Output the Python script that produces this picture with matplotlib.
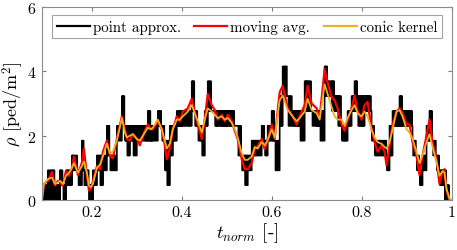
import numpy as np
import matplotlib
matplotlib.use("Agg")
import matplotlib.pyplot as plt

plt.rcParams["font.family"] = "serif"
plt.rcParams["font.serif"] = ["cmr10"]
plt.rcParams["mathtext.fontset"] = "cm"
plt.rcParams["axes.formatter.use_mathtext"] = True

# normalised time of each sample
t_norm = [
    0.0898, 0.0942, 0.1031, 0.1120, 0.1186, 0.1253, 0.1297, 0.1364, 0.1430, 0.1497,
    0.1563, 0.1608, 0.1696, 0.1785, 0.1829, 0.1896, 0.1940, 0.1984, 0.2029, 0.2118,
    0.2184, 0.2251, 0.2339, 0.2406, 0.2472, 0.2561, 0.2672, 0.2738, 0.2783, 0.2849,
    0.2916, 0.3004, 0.3071, 0.3182, 0.3248, 0.3315, 0.3359, 0.3470, 0.3559, 0.3625,
    0.3670, 0.3736, 0.3803, 0.3891, 0.3958, 0.4024, 0.4135, 0.4224, 0.4290, 0.4357,
    0.4446, 0.4512, 0.4579, 0.4667, 0.4734, 0.4800, 0.4889, 0.4956, 0.5022, 0.5111,
    0.5177, 0.5244, 0.5333, 0.5399, 0.5466, 0.5554, 0.5621, 0.5687, 0.5776, 0.5843,
    0.5909, 0.5998, 0.6064, 0.6175, 0.6242, 0.6353, 0.6463, 0.6552, 0.6619, 0.6730,
    0.6796, 0.6885, 0.6996, 0.7062, 0.7173, 0.7239, 0.7328, 0.7395, 0.7461, 0.7550,
    0.7616, 0.7683, 0.7772, 0.7838, 0.7905, 0.7993, 0.8060, 0.8126, 0.8215, 0.8282,
    0.8348, 0.8437, 0.8503, 0.8548, 0.8614, 0.8681, 0.8769, 0.8836, 0.8902, 0.8991,
    0.9058, 0.9124, 0.9213, 0.9279, 0.9346, 0.9435, 0.9501, 0.9568, 0.9656, 0.9723,
    0.9789, 0.9834, 0.9878, 0.9945, 1.0000,
]

# point approximation: pedestrian counts in the cell (upper / lower value in each sample)
count_hi = [
    1, 1, 2, 2, 1, 1, 2, 1, 2, 2,
    3, 3, 2, 4, 2, 2, 1, 1, 2, 3,
    3, 3, 5, 3, 3, 5, 7, 5, 5, 5,
    5, 5, 5, 5, 6, 5, 5, 6, 5, 4,
    4, 5, 5, 6, 6, 6, 6, 8, 6, 5,
    5, 6, 8, 6, 6, 6, 6, 6, 6, 6,
    5, 5, 3, 3, 3, 4, 4, 4, 5, 4,
    5, 6, 4, 7, 9, 7, 6, 6, 6, 8,
    8, 6, 6, 6, 9, 8, 8, 7, 7, 5,
    5, 6, 7, 8, 7, 7, 7, 7, 5, 4,
    4, 4, 4, 3, 5, 6, 6, 7, 6, 6,
    6, 4, 3, 2, 3, 5, 6, 4, 3, 2,
    2, 2, 1, 0, 0,
]
count_lo = [
    0, 0, 0, 0, 0, 0, 1, 0, 1, 1,
    2, 2, 1, 2, 1, 1, 0, 0, 1, 2,
    1, 2, 3, 2, 2, 4, 5, 4, 3, 4,
    3, 4, 4, 4, 4, 4, 4, 5, 4, 2,
    1, 3, 4, 5, 5, 5, 5, 6, 5, 4,
    3, 5, 6, 6, 5, 5, 5, 5, 5, 5,
    5, 3, 2, 1, 2, 3, 3, 3, 4, 3,
    4, 4, 2, 5, 7, 5, 5, 5, 4, 6,
    6, 5, 5, 4, 7, 7, 6, 6, 5, 4,
    4, 5, 6, 6, 5, 5, 6, 6, 4, 3,
    3, 3, 3, 2, 3, 5, 5, 5, 5, 5,
    5, 3, 2, 1, 2, 4, 4, 3, 2, 1,
    1, 0, 0, 0, 0,
]
cell_area = 2.1667  # m^2

moving_avg = [
    0.0, 0.5, 0.6, 0.87, 0.45, 0.6, 0.55, 0.45, 0.9, 0.75,
    1.0, 1.35, 0.78, 1.17, 1.6, 0.78, 0.3, 0.35, 0.58, 1.05,
    0.95, 1.5, 1.85, 1.38, 1.3, 1.9, 2.6, 2.2, 1.9, 1.85,
    2.05, 1.9, 1.7, 2.15, 2.35, 2.2, 2.2, 2.45, 2.2, 1.7,
    1.27, 1.6, 2.2, 2.6, 2.45, 2.75, 2.85, 3.15, 2.75, 2.35,
    1.9, 2.5, 3.3, 2.95, 2.8, 2.5, 2.65, 2.45, 2.65, 2.45,
    2.15, 1.9, 1.27, 0.96, 0.96, 1.15, 1.58, 1.68, 1.9, 1.58,
    1.9, 2.35, 1.9, 3.35, 3.55, 2.85, 2.6, 2.35, 2.6, 2.95,
    3.55, 3.0, 2.85, 2.55, 4.07, 3.65, 3.2, 3.1, 2.85, 2.35,
    2.15, 2.5, 2.85, 3.25, 2.75, 2.5, 2.95, 3.05, 2.2, 1.8,
    1.5, 1.7, 1.5, 1.08, 1.7, 2.35, 2.75, 2.85, 2.7, 2.35,
    2.35, 1.8, 1.38, 0.78, 1.38, 2.0, 2.5, 1.8, 1.27, 0.5,
    0.87, 0.96, 0.3, 0.0, 0.0,
]

conic_kernel = [
    0.0, 0.5, 0.65, 0.7, 0.5, 0.55, 0.6, 0.5, 0.75, 0.85,
    1.0, 1.15, 0.85, 1.05, 1.2, 0.85, 0.45, 0.4, 0.5, 1.0,
    1.1, 1.35, 1.75, 1.45, 1.5, 1.85, 2.55, 2.1, 1.95, 2.0,
    2.05, 1.9, 1.85, 2.1, 2.25, 2.2, 2.25, 2.5, 2.2, 1.85,
    1.6, 1.75, 2.2, 2.5, 2.5, 2.6, 2.75, 2.95, 2.7, 2.45,
    2.1, 2.5, 2.85, 2.75, 2.65, 2.55, 2.6, 2.5, 2.55, 2.4,
    2.2, 1.95, 1.45, 1.25, 1.25, 1.35, 1.65, 1.6, 1.8, 1.7,
    1.85, 2.2, 1.95, 3.1, 3.25, 2.8, 2.6, 2.45, 2.55, 2.75,
    3.15, 2.8, 2.7, 2.5, 3.6, 3.3, 2.9, 2.6, 2.5, 2.5,
    2.3, 2.55, 2.8, 2.95, 2.7, 2.6, 2.75, 2.6, 2.2, 1.95,
    1.8, 1.75, 1.65, 1.6, 1.8, 2.2, 2.75, 2.8, 2.6, 2.2,
    2.1, 1.9, 1.5, 1.15, 1.4, 1.8, 2.05, 1.65, 1.2, 0.75,
    0.9, 0.85, 0.35, 0.05, 0.0,
]

t = np.array(t_norm)
hi = np.array(count_hi) / cell_area
lo = np.array(count_lo) / cell_area

# point approx flickers between the two counts within each sample
n_flick = 3
t_pts, rho_pts = [], []
for i in range(len(t) - 1):
    dt = (t[i + 1] - t[i]) / (2 * n_flick)
    for k in range(n_flick):
        t_pts += [t[i] + 2 * k * dt, t[i] + (2 * k + 1) * dt]
        rho_pts += [hi[i], lo[i]]
t_pts.append(t[-1])
rho_pts.append(hi[-1])

fig = plt.figure(figsize=(4.57, 2.51), dpi=100)
ax = fig.add_axes([0.092, 0.199, 0.897, 0.769])

ax.step(t_pts, rho_pts, where="post", color="k", linewidth=1.2, label="point approx.")
ax.plot(t, moving_avg, color="#ff0000", linewidth=1.6, label="moving avg.")
ax.plot(t, conic_kernel, color="#edb120", linewidth=1.3, label="conic kernel")

ax.set_xlim(0.09, 1.0)
ax.set_ylim(0, 6)
ax.set_xticks([0.2, 0.4, 0.6, 0.8, 1.0])
ax.set_xticklabels(["0.2", "0.4", "0.6", "0.8", "1"])
ax.set_yticks([0, 2, 4, 6])
ax.tick_params(direction="in", top=True, right=True, labelsize=11.5, length=3,
               color="#7f7f7f", pad=4)
for s in ax.spines.values():
    s.set_color("#8c8c8c")
    s.set_linewidth(0.8)

ax.set_xlabel(r"$t_{norm}$ [-]", fontsize=13.5, labelpad=1)
ax.set_ylabel(r"$\rho$ [ped/m$^2$]", fontsize=13, labelpad=1)

leg = ax.legend(loc="upper center", ncol=3, fontsize=10.8, frameon=True, fancybox=False,
                edgecolor="#8c8c8c", handlelength=2.2, handletextpad=0.2,
                columnspacing=0.9, borderaxespad=0.55, borderpad=0.3)
leg.get_frame().set_linewidth(0.8)
for line in leg.get_lines():
    line.set_linewidth(1.6)

fig.savefig("out.png", dpi=100)
